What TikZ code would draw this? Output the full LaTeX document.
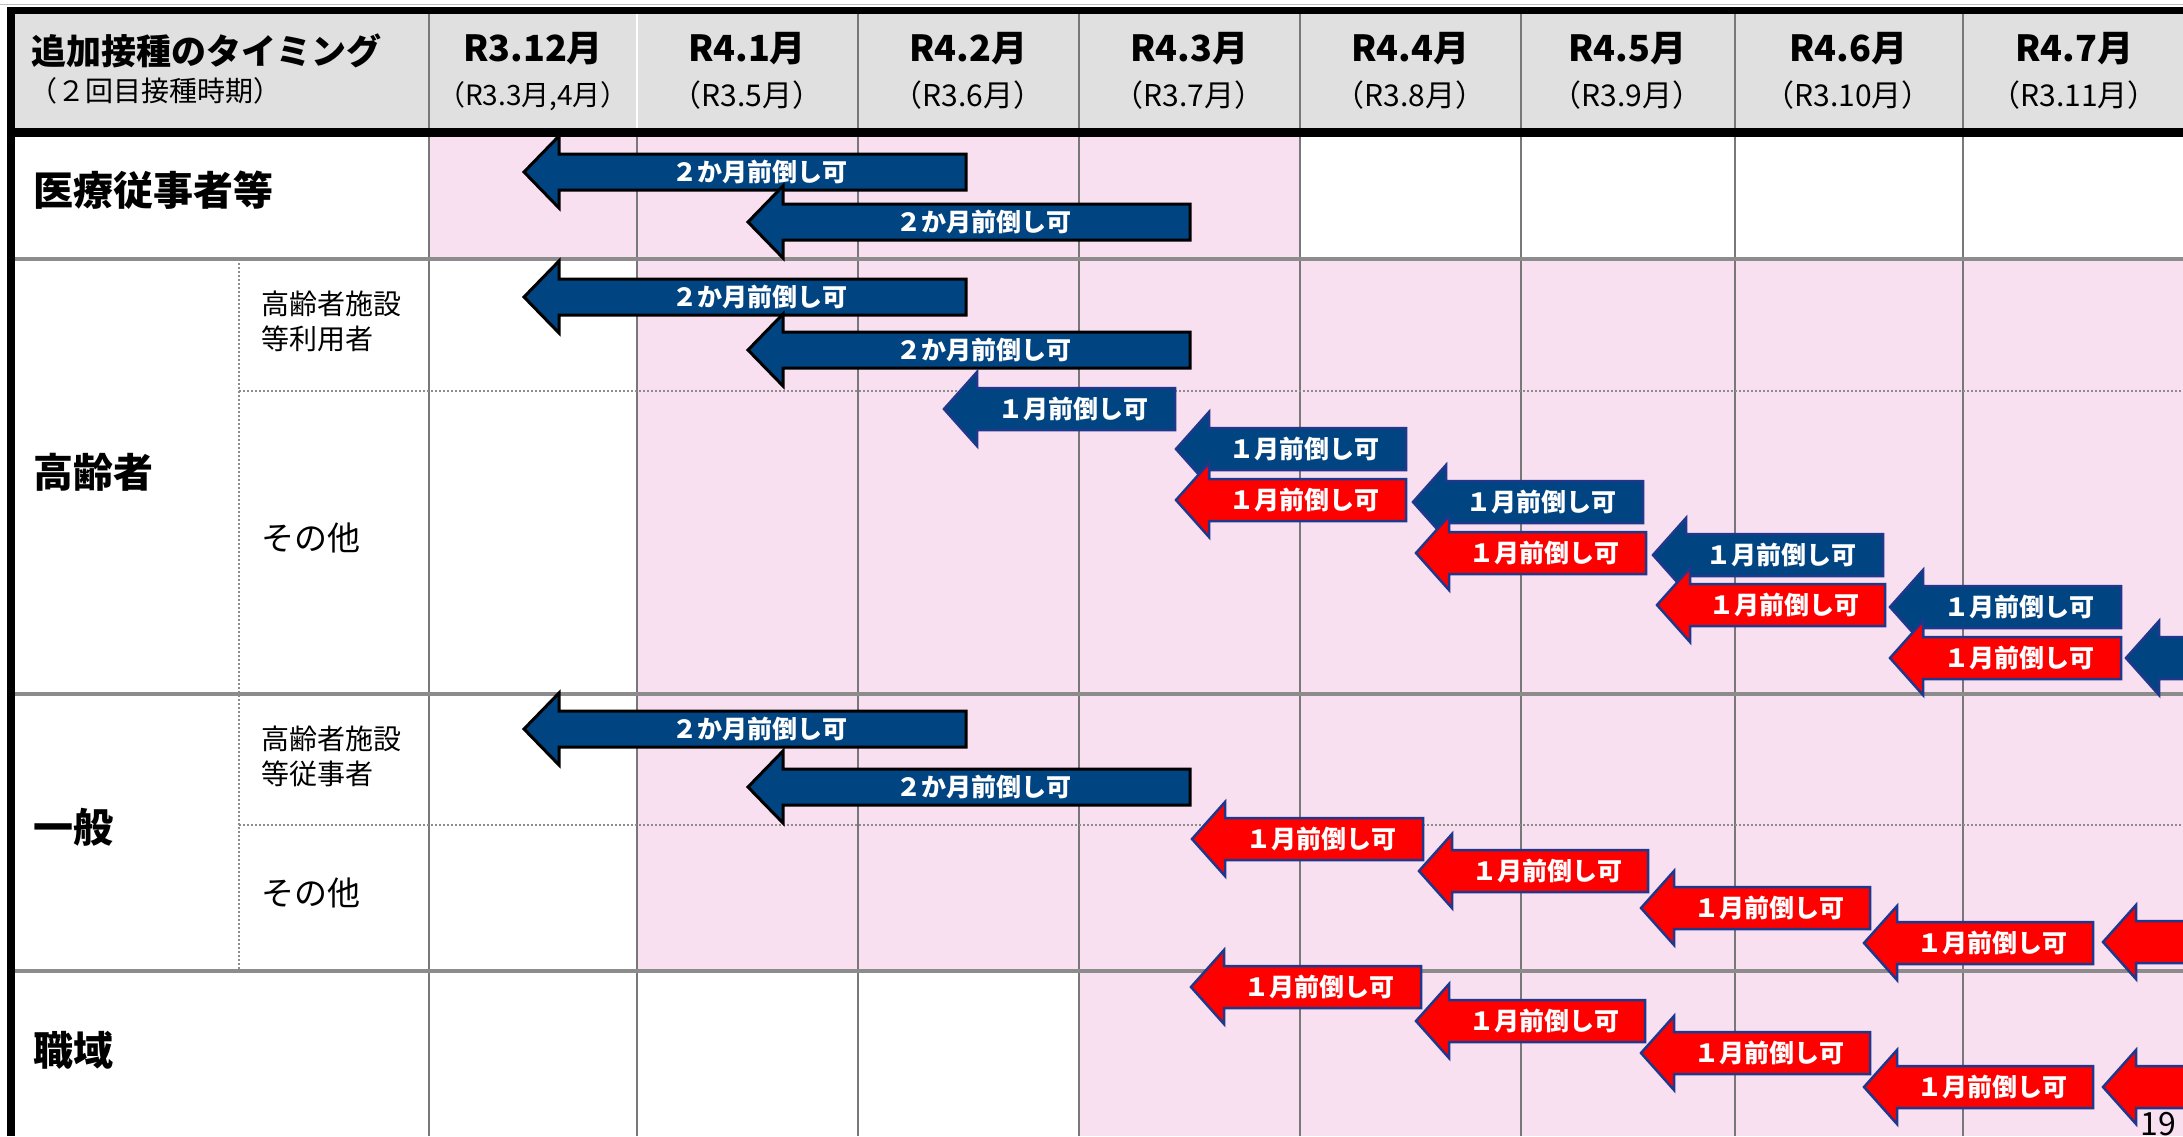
\documentclass[tikz,border=0pt]{standalone}
\usepackage{fontspec}
\setmainfont{Noto Sans CJK JP}
\definecolor{pinkbg}{RGB}{248,224,240}
\definecolor{hdrgray}{RGB}{224,224,224}
\definecolor{gridgray}{RGB}{120,120,120}
\definecolor{rowgray}{RGB}{140,140,140}
\definecolor{arrblue}{RGB}{0,68,130}
\definecolor{arrred}{RGB}{255,0,0}
\definecolor{navyline}{RGB}{31,56,140}
\tikzset{
  hdrbig/.style={font=\fontsize{36}{40}\selectfont\bfseries, inner sep=0},
  hdrsmall/.style={font=\fontsize{30}{34}\selectfont, inner sep=0},
  rowlab/.style={font=\fontsize{40}{44}\selectfont\bfseries, anchor=west, inner sep=0},
  sublab/.style={font=\fontsize{28}{35}\selectfont, anchor=west, align=left, inner sep=0},
  otherlab/.style={font=\fontsize{33}{36}\selectfont, anchor=west, inner sep=0},
  arrtxt/.style={font=\fontsize{25}{28}\selectfont\bfseries, text=white, inner sep=0},
  twoarr/.style={fill=arrblue, draw=black, line width=3pt},
  bluearr/.style={fill=arrblue, draw=navyline, line width=2.5pt},
  redarr/.style={fill=arrred, draw=navyline, line width=2.5pt},
  vline/.style={draw=gridgray, line width=1.5pt},
  rowline/.style={draw=rowgray, line width=3.5pt},
  dotline/.style={draw=rowgray, line width=2pt, dash pattern=on 2pt off 2pt},
  blackband/.style={fill=black, draw=none},
}
% style, name, tip x, centre y, right x, head length, body half, head half, text
\newcommand{\larr}[9]{%
  \draw[#1] (#3,#4) -- ({#3+#6},{#4-#8}) -- ({#3+#6},{#4-#7}) -- (#5,{#4-#7})
    -- (#5,{#4+#7}) -- ({#3+#6},{#4+#7}) -- ({#3+#6},{#4+#8}) -- cycle;
  \node[arrtxt] (#2) at ({(#3+#6+#5)/2-3},#4) {#9};
}
\newcommand{\twoarrow}[3]{\larr{twoarr}{#1}{#2}{#3}{#2+442}{35}{18}{36}{２か月前倒し可}}
\newcommand{\onearrow}[5]{\larr{#1}{#2}{#3}{#4}{#5}{33}{21}{37}{１月前倒し可}}
\newcommand{\partarrow}[3]{%
  \draw[#1] (#2,#3) -- ({#2+33},{#3-37}) -- ({#2+33},{#3-21}) -- ({#2+260},{#3-21})
    -- ({#2+260},{#3+21}) -- ({#2+33},{#3+21}) -- ({#2+33},{#3+37}) -- cycle;
}
\begin{document}
\begin{tikzpicture}[x=1pt,y=-1pt]
\useasboundingbox (0,0) rectangle (2183,1136);
\clip (0,0) rectangle (2183,1136);
\fill[white] (0,0) rectangle (2183,1136);
% backgrounds
\fill[hdrgray] (7,7) rectangle (2183,137);
\fill[pinkbg] (429,137) rectangle (1300,259);
\fill[pinkbg] (637,259) rectangle (2183,971);
\fill[pinkbg] (1079,971) rectangle (2183,1136);
% grid verticals
\foreach \xx in {429,858,1079,1300,1521,1735,1963}
  \draw[vline] (\xx,14) -- (\xx,1136);
\draw[draw=white, line width=2pt] (637,14) -- (637,128);
\draw[vline] (637,137) -- (637,1136);
% dotted sub lines
\draw[dotline] (239,259) -- (239,971);
\draw[dotline] (239,391) -- (2183,391);
\draw[dotline] (239,825) -- (2183,825);
% row lines
\foreach \yy in {259,694,971}
  \draw[rowline] (15,\yy) -- (2183,\yy);
% borders
\draw[draw={rgb,255:red,190;green,190;blue,190}, line width=1.2pt] (0,4.5) -- (2183,4.5);
\fill[blackband] (7,7) rectangle (2183,14);
\fill[blackband] (7,128) rectangle (2183,137);
\fill[blackband] (7,7) rectangle (15,1136);
% header texts
\node[font=\fontsize{35}{38}\selectfont\bfseries, anchor=west, inner sep=0] (title) at (31,51) {追加接種のタイミング};
\node[font=\fontsize{28}{30}\selectfont, anchor=west, inner sep=0] (subtitle) at (29,91) {（２回目接種時期）};
\node[hdrbig] (m1) at (533,49) {R3.12月};
\node[font=\fontsize{28}{30}\selectfont, inner sep=0] (s1) at (533,96) {（R3.3月,4月）};
\node[hdrbig] (m2) at (747,49) {R4.1月};
\node[hdrsmall] (s2) at (747,95) {（R3.5月）};
\node[hdrbig] (m3) at (968,49) {R4.2月};
\node[hdrsmall] (s3) at (968,95) {（R3.6月）};
\node[hdrbig] (m4) at (1189,49) {R4.3月};
\node[hdrsmall] (s4) at (1189,95) {（R3.7月）};
\node[hdrbig] (m5) at (1410,49) {R4.4月};
\node[hdrsmall] (s5) at (1410,95) {（R3.8月）};
\node[hdrbig] (m6) at (1627,49) {R4.5月};
\node[hdrsmall] (s6) at (1627,95) {（R3.9月）};
\node[hdrbig] (m7) at (1848,49) {R4.6月};
\node[hdrsmall] (s7) at (1848,95) {（R3.10月）};
\node[hdrbig] (m8) at (2074,49) {R4.7月};
\node[hdrsmall] (s8) at (2074,95) {（R3.11月）};
% row labels
\node[rowlab] (r1) at (33,190) {医療従事者等};
\node[rowlab] (r2) at (33,472) {高齢者};
\node[rowlab] (r3) at (33,827) {一般};
\node[rowlab] (r4) at (33,1050) {職域};
\node[sublab] (r2a) at (261,321) {高齢者施設\\等利用者};
\node[otherlab] (r2b) at (261,538) {その他};
\node[sublab] (r3a) at (261,756) {高齢者施設\\等従事者};
\node[otherlab] (r3b) at (261,893) {その他};
% two-month arrows
\twoarrow{a1}{524}{172}
\twoarrow{a2}{748}{222}
\twoarrow{b1}{524}{297}
\twoarrow{b2}{748}{350}
\twoarrow{c1}{524}{729}
\twoarrow{c2}{748}{787}
% one-month arrows, elderly others
\onearrow{bluearr}{e1}{944}{409}{1175}
\onearrow{bluearr}{e2}{1176}{449}{1406}
\onearrow{redarr}{f1}{1176}{500}{1406}
\onearrow{bluearr}{e3}{1413}{502}{1643}
\onearrow{redarr}{f2}{1416}{553}{1646}
\onearrow{bluearr}{e4}{1653}{555}{1883}
\onearrow{redarr}{f3}{1657}{605}{1885}
\onearrow{bluearr}{e5}{1890}{607}{2121}
\onearrow{redarr}{f4}{1890}{658}{2121}
\partarrow{bluearr}{2126}{658}
% general others
\onearrow{redarr}{g1}{1192}{839}{1423}
\onearrow{redarr}{g2}{1419}{871}{1648}
\onearrow{redarr}{g3}{1641}{908}{1870}
\onearrow{redarr}{g4}{1864}{943}{2093}
\partarrow{redarr}{2103}{942}
% workplace
\onearrow{redarr}{h1}{1191}{987}{1421}
\onearrow{redarr}{h2}{1416}{1021}{1645}
\onearrow{redarr}{h3}{1641}{1053}{1870}
\onearrow{redarr}{h4}{1864}{1087}{2093}
\partarrow{redarr}{2103}{1087}
% page number
\node[font=\fontsize{32}{36}\selectfont, inner sep=0] (pg) at (2158,1124) {19};
\end{tikzpicture}
\end{document}
